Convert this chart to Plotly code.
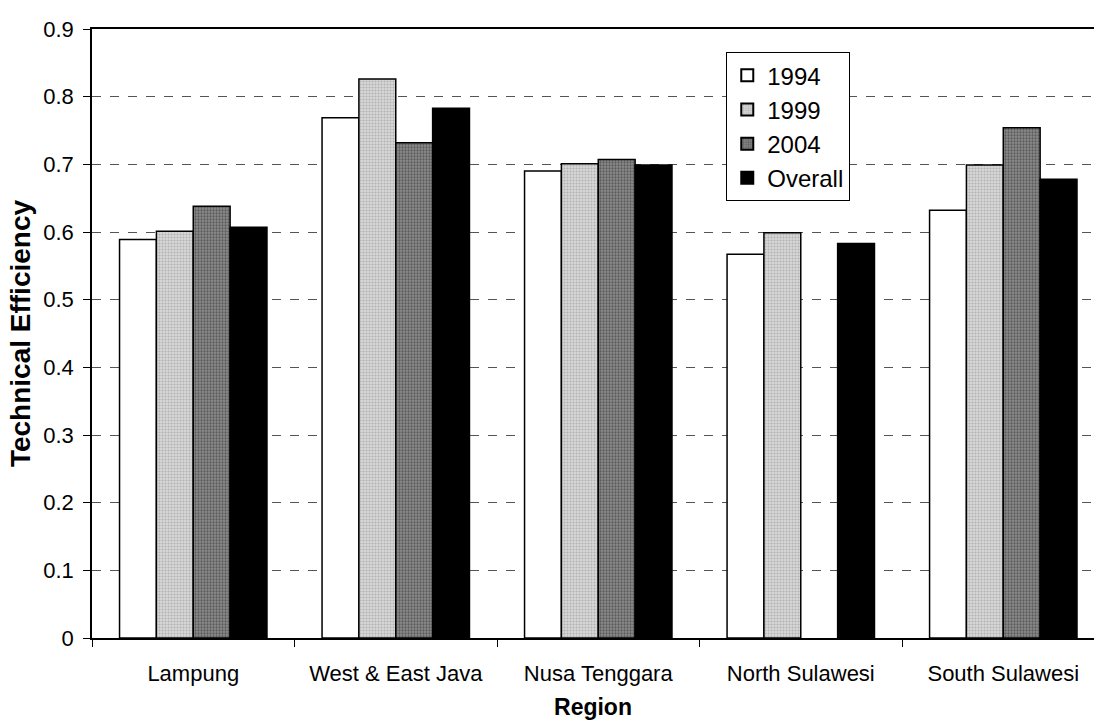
import plotly.graph_objects as go

# Mean technical efficiency by region and survey year
region_labels = ["Lampung", "West & East Java", "Nusa Tenggara", "North Sulawesi", "South Sulawesi"]
te_1994 = [0.589, 0.769, 0.690, 0.567, 0.632]
te_1999 = [0.601, 0.826, 0.701, 0.599, 0.699]
te_2004 = [0.638, 0.732, 0.707, None, 0.754]
te_overall = [0.607, 0.783, 0.699, 0.583, 0.678]

y_ticks = [0, 0.1, 0.2, 0.3, 0.4, 0.5, 0.6, 0.7, 0.8, 0.9]
y_tick_text = ["0", "0.1", "0.2", "0.3", "0.4", "0.5", "0.6", "0.7", "0.8", "0.9"]

FONT = "Liberation Sans, Arial, sans-serif"

series = [
    ("1994", te_1994, dict(color="white")),
    ("1999", te_1999, dict(color="#c4c4c4",
                           pattern=dict(shape=".", fgcolor="#8a8a8a", bgcolor="#d6d6d6",
                                        size=3, solidity=0.35))),
    ("2004", te_2004, dict(color="#5e5e5e",
                           pattern=dict(shape=".", fgcolor="#2a2a2a", bgcolor="#8c8c8c",
                                        size=3, solidity=0.45))),
    ("Overall", te_overall, dict(color="black")),
]

fig = go.Figure()
for name, vals, style in series:
    fig.add_trace(go.Bar(
        name=name,
        x=region_labels,
        y=vals,
        marker=dict(line=dict(color="black", width=1.5), **style),
    ))

fig.update_layout(
    width=1094,
    height=724,
    margin=dict(l=92, r=0, t=29, b=86),
    paper_bgcolor="white",
    plot_bgcolor="white",
    barmode="group",
    bargap=0.272,
    bargroupgap=0,
    font=dict(family=FONT, color="black", size=22),
    showlegend=True,
    legend=dict(
        x=0.633, y=0.962, xanchor="left", yanchor="top",
        bgcolor="white", bordercolor="black", borderwidth=1,
        font=dict(size=24, family=FONT),
        traceorder="normal",
        itemsizing="constant",
        itemwidth=30,
    ),
)

fig.update_xaxes(
    type="category",
    range=[-0.5, 4.448],
    showline=True, linecolor="black", linewidth=1.5, mirror=True,
    ticks="outside", tickson="boundaries", ticklen=7, tickcolor="black",
    tickfont=dict(size=22),
    ticklabelstandoff=15,
    showgrid=False,
    title=dict(text="<b>Region</b>", font=dict(size=23), standoff=14),
)

fig.update_yaxes(
    range=[0, 0.9],
    tickvals=y_ticks, ticktext=y_tick_text,
    showline=True, linecolor="black", linewidth=1.5,
    ticks="outside", ticklen=7, tickcolor="black",
    tickfont=dict(size=22),
    ticklabelstandoff=5,
    showgrid=True, gridcolor="#555555", gridwidth=1, griddash="dash",
    zeroline=False,
    title=dict(text="<b>Technical Efficiency</b>", font=dict(size=28), standoff=4),
)

fig.write_html("out.html")
